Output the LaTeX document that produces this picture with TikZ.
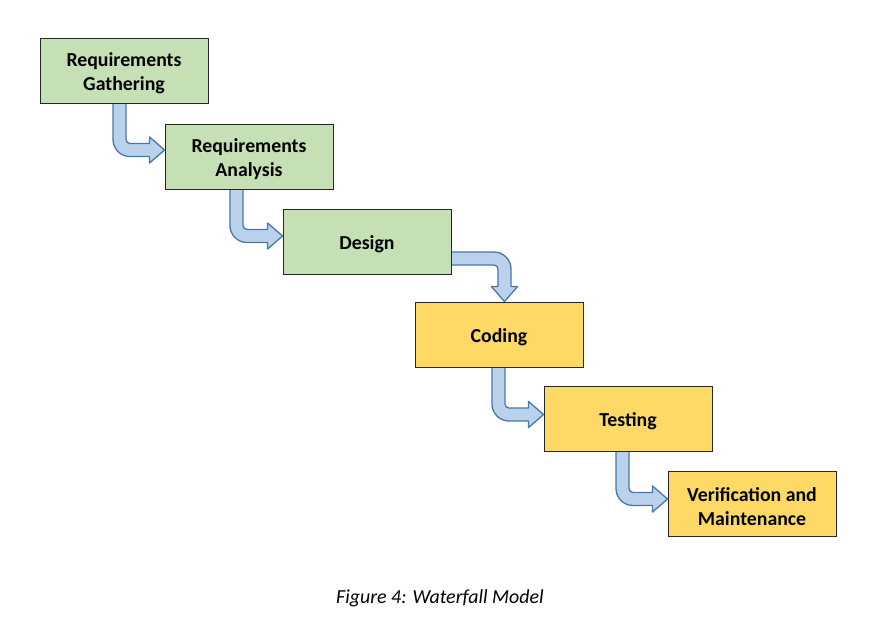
\documentclass[tikz,border=0pt]{standalone}
\usepackage{fontspec}
\setmainfont{Carlito}
\usetikzlibrary{calc,backgrounds}

\definecolor{phasegreen}{HTML}{C5E0B4}
\definecolor{phaseyellow}{HTML}{FFD966}
\definecolor{flowfill}{HTML}{BBD2EC}
\definecolor{flowline}{HTML}{4A76A8}

% bent block arrow: down out of #1, then right into #2
\newcommand\downright[4]{%
  \path[flow] let \p1=($(#1.south)+(#3,0)$), \p2=($(#2.west)+(0,#4)$) in
    (\x1-6.5pt,\y1+2pt) -- (\x1-6.5pt,\y2-6.5pt+17pt)
    arc[start angle=180,end angle=270,radius=17pt]
    -- (\x2-15pt,\y2-6.5pt) -- (\x2-15pt,\y2-13pt) -- (\x2,\y2)
    -- (\x2-15pt,\y2+13pt) -- (\x2-15pt,\y2+6.5pt)
    -- (\x1+10.5pt,\y2+6.5pt)
    arc[start angle=270,end angle=180,radius=4pt]
    -- (\x1+6.5pt,\y1+2pt) -- cycle;}
% bent block arrow: right out of #1, then down into #2
\newcommand\rightdown[4]{%
  \path[flow] let \p1=($(#1.east)+(0,#3)$), \p2=($(#2.north)+(#4,0)$) in
    (\x1-2pt,\y1+6.5pt) -- (\x2+6.5pt-17pt,\y1+6.5pt)
    arc[start angle=90,end angle=0,radius=17pt]
    -- (\x2+6.5pt,\y2+15pt) -- (\x2+13pt,\y2+15pt) -- (\x2,\y2)
    -- (\x2-13pt,\y2+15pt) -- (\x2-6.5pt,\y2+15pt)
    -- (\x2-6.5pt,\y1-10.5pt)
    arc[start angle=0,end angle=90,radius=4pt]
    -- (\x1-2pt,\y1-6.5pt) -- cycle;}

\begin{document}
\begin{tikzpicture}[x=1pt,y=-1pt,
  phase/.style={draw=black!85,line width=0.9pt,minimum width=168pt,minimum height=65pt,inner sep=0pt},
  phasetext/.style={align=center,font=\fontsize{19.8}{24}\selectfont\bfseries,inner sep=0pt,yshift=-3pt},
  greenphase/.style={phase,fill=phasegreen},
  yellowphase/.style={phase,fill=phaseyellow},
  flow/.style={fill=flowfill,draw=flowline,line width=1.3pt,line join=round}]
\useasboundingbox (0,0) rectangle (871,627);

\node [greenphase,label={[phasetext]center:{Requirements\\Gathering}}] (gather) at (124,70.5) {};
\node [greenphase,label={[phasetext]center:{Requirements\\Analysis}}] (analysis) at (249,156.5) {};
\node [greenphase,label={[phasetext]center:Design}] (design) at (367,241.5) {};
\node [yellowphase,label={[phasetext]center:Coding}] (coding) at (499,334.5) {};
\node [yellowphase,label={[phasetext]center:Testing}] (testing) at (628,418.5) {};
\node [yellowphase,label={[phasetext]center:{Verification and\\Maintenance}}] (verify) at (752,503.5) {};

\begin{scope}[on background layer]
\downright{gather}{analysis}{-4.5}{-6.5}
\downright{analysis}{design}{-12.5}{-5.5}
\rightdown{design}{coding}{17}{5.5}
\downright{coding}{testing}{-0.5}{-4}
\downright{testing}{verify}{-5.5}{-4.5}
\end{scope}

\node [font=\fontsize{19.9}{24}\selectfont\itshape] (caption) at (440,598) {Figure 4: Waterfall Model};
\end{tikzpicture}
\end{document}
